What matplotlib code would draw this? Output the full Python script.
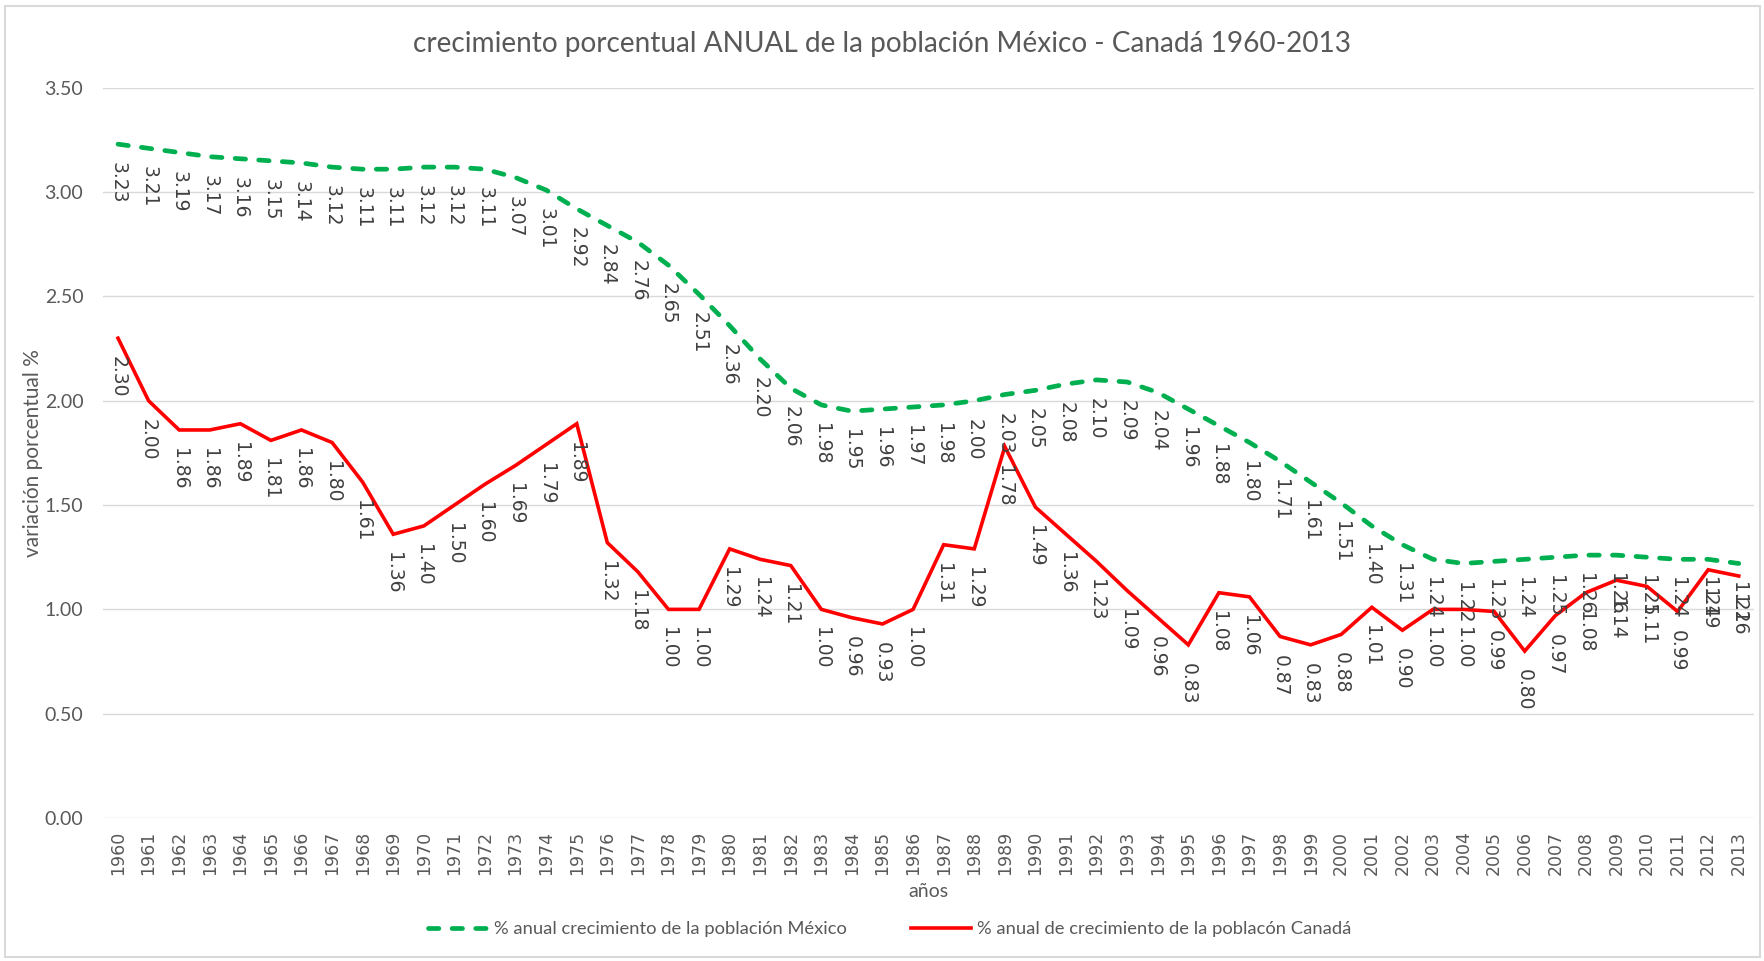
import numpy as np
import matplotlib
matplotlib.use("Agg")
import matplotlib.pyplot as plt
from matplotlib.patches import Rectangle

YEARS = list(range(1960, 2014))

MEXICO = [3.23, 3.21, 3.19, 3.17, 3.16, 3.15, 3.14, 3.12, 3.11, 3.11,
          3.12, 3.12, 3.11, 3.07, 3.01, 2.92, 2.84, 2.76, 2.65, 2.51,
          2.36, 2.20, 2.06, 1.98, 1.95, 1.96, 1.97, 1.98, 2.00, 2.03,
          2.05, 2.08, 2.10, 2.09, 2.04, 1.96, 1.88, 1.80, 1.71, 1.61,
          1.51, 1.40, 1.31, 1.24, 1.22, 1.23, 1.24, 1.25, 1.26, 1.26,
          1.25, 1.24, 1.24, 1.22]

CANADA = [2.30, 2.00, 1.86, 1.86, 1.89, 1.81, 1.86, 1.80, 1.61, 1.36,
          1.40, 1.50, 1.60, 1.69, 1.79, 1.89, 1.32, 1.18, 1.00, 1.00,
          1.29, 1.24, 1.21, 1.00, 0.96, 0.93, 1.00, 1.31, 1.29, 1.78,
          1.49, 1.36, 1.23, 1.09, 0.96, 0.83, 1.08, 1.06, 0.87, 0.83,
          0.88, 1.01, 0.90, 1.00, 1.00, 0.99, 0.80, 0.97, 1.08, 1.14,
          1.11, 0.99, 1.19, 1.16]

Y_TICKS = [0.0, 0.5, 1.0, 1.5, 2.0, 2.5, 3.0, 3.5]

TITLE = "crecimiento porcentual ANUAL de la población México - Canadá 1960-2013"
LBL_MX = "% anual crecimiento de la población México"
LBL_CA = "% anual de crecimiento de la poblacón Canadá"

GREEN = "#00B050"
RED = "#FF0000"
GRAY_TXT = "#595959"
LABEL_TXT = "#404040"

plt.rcParams["font.family"] = ["Lato", "DejaVu Sans"]

fig = plt.figure(figsize=(17.65, 9.61), dpi=100)
ax = fig.add_axes([0.0582, 0.1488, 0.9356, 0.7598])

x = np.arange(len(YEARS))

ax.plot(x, MEXICO, color=GREEN, lw=3.4, linestyle=(0, (2.2, 2.8)),
        dash_capstyle="round", label=LBL_MX, zorder=3)
ax.plot(x, CANADA, color=RED, lw=2.6, solid_joinstyle="miter",
        label=LBL_CA, zorder=3)

# data labels, rotated, under each point
for series in (MEXICO, CANADA):
    for xi, v in zip(x, series):
        ax.annotate(f"{v:.2f}", (xi, v), xytext=(0, -13), textcoords="offset points",
                    rotation=270, ha="center", va="top", fontsize=13.5,
                    family="DejaVu Sans", color=LABEL_TXT, zorder=4)

ax.set_xlim(-0.5, len(YEARS) - 0.5)
ax.set_ylim(0, 3.5)
ax.set_yticks(Y_TICKS)
ax.set_yticklabels([f"{t:.2f}" for t in Y_TICKS], fontsize=14, color=GRAY_TXT)
ax.set_xticks(x)
ax.set_xticklabels([str(y) for y in YEARS], rotation=90, fontsize=12.5,
                   family="DejaVu Sans", color=GRAY_TXT)
ax.tick_params(length=0, pad=9)
ax.tick_params(axis="y", pad=14)
ax.grid(axis="y", color="#D9D9D9", lw=1)
ax.set_axisbelow(True)
for s in ax.spines.values():
    s.set_visible(False)

ax.set_ylabel("variación porcentual %", fontsize=15, color=GRAY_TXT, labelpad=1)
ax.set_xlabel("años", fontsize=14, color=GRAY_TXT, labelpad=6)

fig.suptitle(TITLE, fontsize=20.2, color=GRAY_TXT, y=0.968)

leg = fig.legend(loc="center", bbox_to_anchor=(0.504, 0.033), ncol=2, frameon=False,
                 fontsize=13.2, handlelength=3.3, columnspacing=3.5, handletextpad=0.3)
for t in leg.get_texts():
    t.set_color(GRAY_TXT)

fig.patches.append(Rectangle((0.003, 0.004), 0.994, 0.99, transform=fig.transFigure,
                             fill=False, edgecolor="#D9D9D9", lw=1.5))

fig.savefig("out.png", dpi=100, facecolor="white")
